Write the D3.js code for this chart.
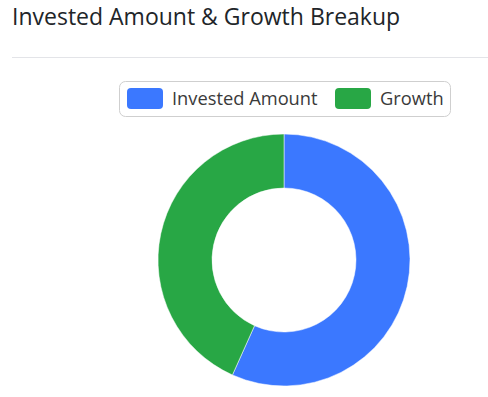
<!DOCTYPE html>
<html>
<head>
<meta charset="utf-8">
<script src="https://cdn.jsdelivr.net/npm/d3@7"></script>
<style>
  body { margin: 0; background: #fff; font-family: "Open Sans", "Noto Sans", sans-serif; }
</style>
</head>
<body>
<svg id="chart" width="488" height="397"></svg>
<script>
// Chart data
const categories = ["Invested Amount", "Growth"];
const amounts = [600000, 458000];
const colors = ["#3b78ff", "#28a745"];

const svg = d3.select("#chart");

// Title and divider
svg.append("text")
    .attr("x", 12)
    .attr("y", 25)
    .style("font-size", "23px")
    .style("fill", "#212529")
    .text("Invested Amount & Growth Breakup");

svg.append("line")
    .attr("x1", 12).attr("x2", 488)
    .attr("y1", 57.5).attr("y2", 57.5)
    .attr("stroke", "#e3e4e8");

// Legend
const legend = svg.append("g");
legend.append("rect")
    .attr("x", 119.5).attr("y", 81.5)
    .attr("width", 331).attr("height", 35)
    .attr("rx", 6)
    .attr("fill", "#fff")
    .attr("stroke", "#cfcfcf");

const legendX = [127, 335];
const items = legend.selectAll("g.item")
    .data(categories)
    .enter()
    .append("g")
    .attr("class", "item")
    .attr("transform", (d, i) => `translate(${legendX[i]},88)`);

items.append("rect")
    .attr("width", 36).attr("height", 21)
    .attr("rx", 4)
    .attr("fill", (d, i) => colors[i]);

items.append("text")
    .attr("x", 45)
    .attr("y", 16.5)
    .style("font-size", "18.3px")
    .style("fill", "#3a3a3a")
    .text(d => d);

// Donut
const pie = d3.pie().sort(null).value(d => d);
const arc = d3.arc().innerRadius(72).outerRadius(126);

const donut = svg.append("g")
    .attr("transform", "translate(284,260)");

donut.selectAll("path")
    .data(pie(amounts))
    .enter()
    .append("path")
    .attr("d", arc)
    .attr("fill", (d, i) => colors[i])
    .attr("stroke", "#fff")
    .attr("stroke-width", 0.5)
    .append("title")
    .text((d, i) => `${categories[i]}: ${d.data}`);
</script>
</body>
</html>
